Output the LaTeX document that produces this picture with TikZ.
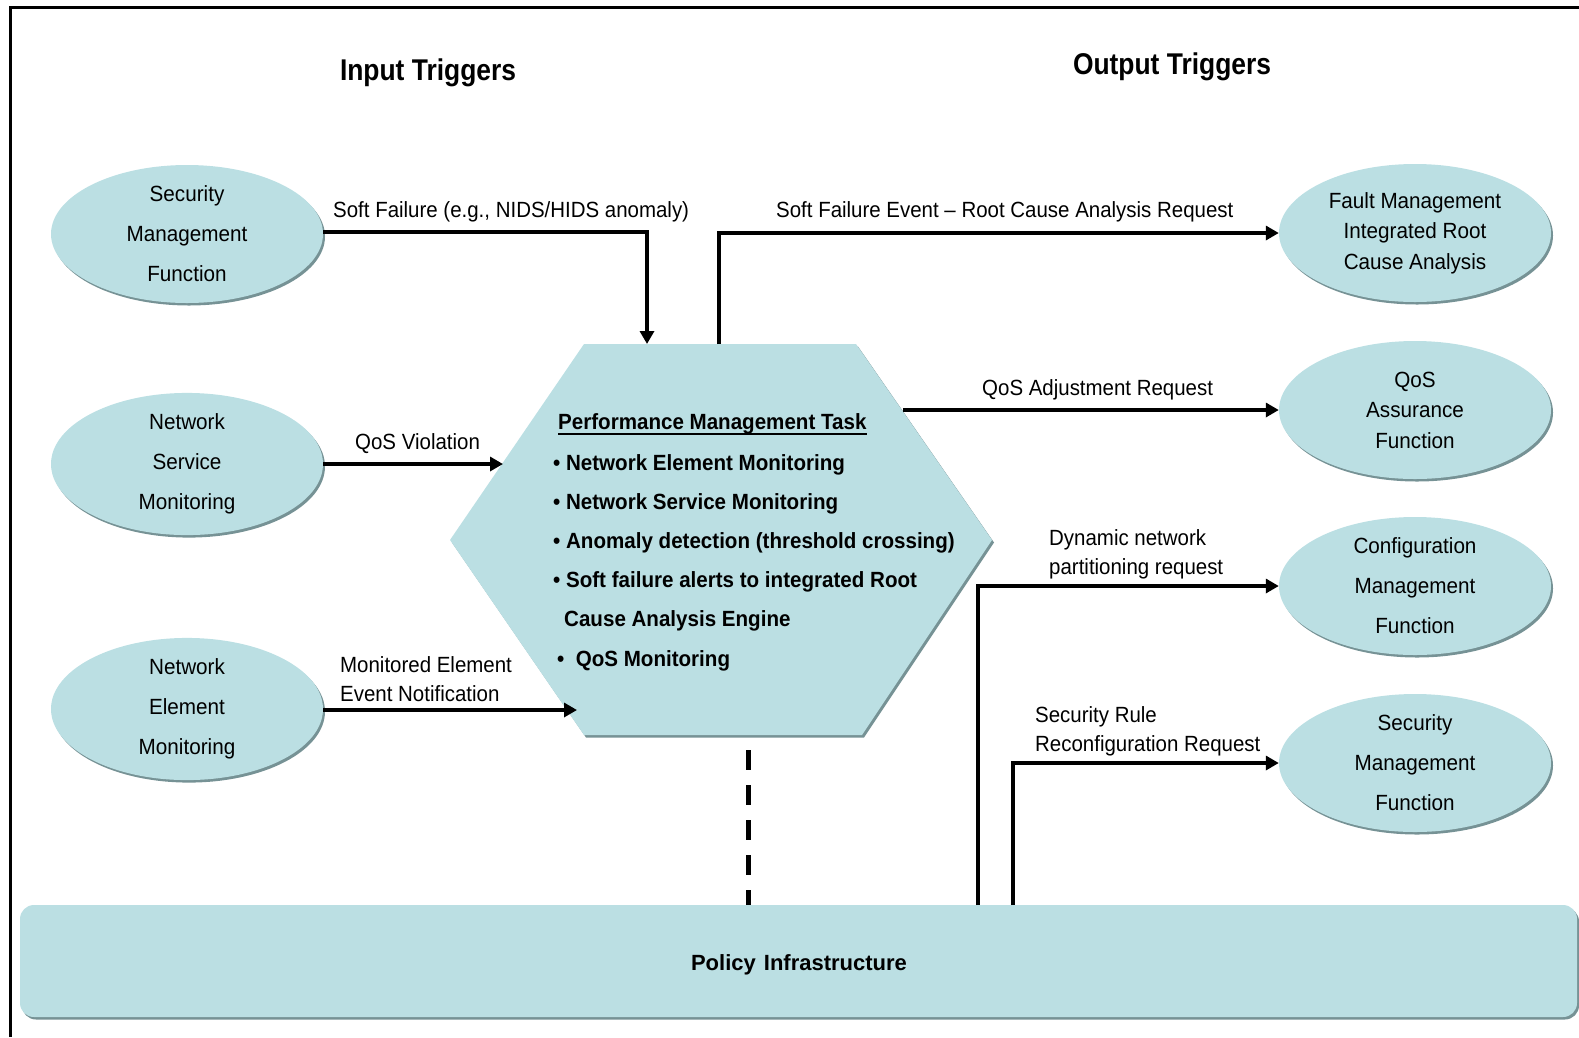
\documentclass[tikz,border=0pt]{standalone}
\usepackage{fontspec}
\usetikzlibrary{shapes.geometric,arrows.meta}
\setmainfont{Liberation Sans}
\newfontfamily\labfont[FakeStretch=0.93]{Liberation Sans}
\newfontfamily\elfont[FakeStretch=0.94]{Liberation Sans}
\newfontfamily\hexfont[FakeStretch=0.935]{Liberation Sans}
\newfontfamily\headfont[FakeStretch=0.88]{Liberation Sans}
\definecolor{paleblue}{RGB}{187,223,227}
\definecolor{shade}{RGB}{118,146,149}
\tikzset{
  shadowed/.style={preaction={fill=shade,transform canvas={shift={(2pt,-2.5pt)}}}},
  func/.style={ellipse,shadowed,fill=paleblue,minimum width=272pt,minimum height=138pt,
    inner sep=0pt,align=center,font=\elfont\fontsize{22pt}{40pt}\selectfont},
  funcnarrow/.style={func,font=\elfont\fontsize{22pt}{30.5pt}\selectfont},
  lab/.style={inner sep=0pt,anchor=base west,font=\labfont\fontsize{22pt}{28.5pt}\selectfont,align=left},
  head/.style={inner sep=0pt,anchor=base,font=\headfont\bfseries\fontsize{30pt}{34pt}\selectfont},
  conn/.style={line width=4.5pt,-{Triangle[length=13pt,width=14pt]}},
}
\begin{document}
\begin{tikzpicture}[x=1pt,y=-1pt]
\useasboundingbox (0,0) rectangle (1579,1037);
% outer frame (top and left edges)
\draw[line width=3pt] (10,1037) -- (10,7) -- (1579,7);

% headings
\node[head] (inh) at (428,80) {Input Triggers};
\node[head] (outh) at (1172,74) {Output Triggers};

% input functions
\node[func] (secin) at (187,234) {Security\\Management\\Function};
\node[func] (nsm) at (187,464) {Network\\Service\\Monitoring};
\node[func] (nem) at (187,709) {Network\\Element\\Monitoring};

% output functions
\node[funcnarrow] (fm) at (1415,233) {Fault Management\\Integrated Root\\Cause Analysis};
\node[funcnarrow] (qos) at (1415,410) {QoS\\Assurance\\Function};
\node[func] (cfg) at (1415,586) {Configuration\\Management\\Function};
\node[func] (secout) at (1415,763) {Security\\Management\\Function};

% performance management hexagon
\coordinate (htl) at (584,344);
\coordinate (htr) at (856,344);
\coordinate (hr) at (992,540);
\coordinate (hbr) at (862,735);
\coordinate (hbl) at (584,735);
\coordinate (hl) at (450,540);
\fill[paleblue,shadowed] (htl) -- (htr) -- (hr) -- (hbr) -- (hbl) -- (hl) -- cycle;
\node[inner sep=0pt,anchor=base west,font=\hexfont\bfseries\fontsize{22pt}{26pt}\selectfont]
  (ptitle) at (558,429) {Performance Management Task};
\draw[line width=2pt] ([yshift=-5pt]ptitle.base west) -- ([yshift=-5pt]ptitle.base east);
\node[inner sep=0pt,anchor=base west,align=left,font=\hexfont\bfseries\fontsize{22pt}{39.2pt}\selectfont]
  (plist) at (553,666) {%
  \textbullet\ Network Element Monitoring\\
  \textbullet\ Network Service Monitoring\\
  \textbullet\ Anomaly detection (threshold crossing)\\
  \textbullet\ Soft failure alerts to integrated Root\\
  \hspace{11pt}Cause Analysis Engine\\
  \hspace{4pt}\textbullet\ \ QoS Monitoring};

% policy infrastructure bar
\node[shadowed,fill=paleblue,rounded corners=14pt,minimum width=1557pt,minimum height=112pt,
  inner sep=0pt] (pol) at (798.5,961) {};
\node[inner sep=0pt,anchor=base,font=\bfseries\fontsize{22pt}{26pt}\selectfont]
  (poltxt) at (799,970) {Policy\hspace{2pt} Infrastructure};

% helper points on the outlines
\coordinate (hextop1) at (647,344);
\coordinate (hextop2) at (719,344);
\coordinate (hexleft1) at (503,464);
\coordinate (hexleft2) at (577,710);
\coordinate (hexright1) at (903,410);
\coordinate (hexbot) at (748,750);
\coordinate (polA) at (978,905);
\coordinate (polB) at (1013,905);
\coordinate (polC) at (748,905);

% input connectors
\draw[conn] ([yshift=2pt]secin.east) -| (hextop1);
\draw[conn] (nsm.east) -- (hexleft1);
\draw[conn] ([yshift=-1pt]nem.east) -- (hexleft2);

% output connectors
\draw[conn] (hextop2) |- (fm.west);
\draw[conn] (hexright1) -- (qos.west);
\draw[conn] (polA) |- (cfg.west);
\draw[conn] (polB) |- (secout.west);
\draw[line width=5pt,dash pattern=on 20pt off 15pt] (hexbot) -- (polC);

% connector labels
\node[lab] (l1) at (333,217) {Soft Failure (e.g., NIDS/HIDS anomaly)};
\node[lab] (l2) at (776,217) {Soft Failure Event – Root Cause Analysis Request};
\node[lab] (l3) at (355,449) {QoS Violation};
\node[lab] (l4) at (340,701) {Monitored Element\\Event Notification};
\node[lab] (l5) at (982,395) {QoS Adjustment Request};
\node[lab] (l6) at (1049,574) {Dynamic network\\partitioning request};
\node[lab] (l7) at (1035,751) {Security Rule\\Reconfiguration Request};
\end{tikzpicture}
\end{document}
